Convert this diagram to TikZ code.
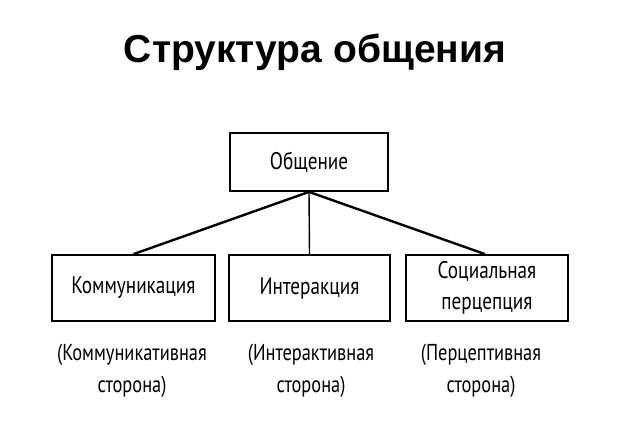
\documentclass[tikz,border=0pt]{standalone}
\usepackage{fontspec}
\setmainfont{Liberation Sans}
\newfontfamily\boxfont[FakeStretch=0.8]{PT Sans}
\begin{document}
\begin{tikzpicture}[x=1pt,y=-1pt,
  box/.style={draw, line width=1.8pt, minimum width=160pt, minimum height=66pt, inner sep=0pt, align=center, font=\boxfont\fontsize{24}{31}\selectfont},
  topbox/.style={box, minimum width=158pt, minimum height=58pt},
  note/.style={align=center, font=\boxfont\fontsize{23}{32}\selectfont},
  link/.style={line width=2.4pt}]
\useasboundingbox (0,0) rectangle (631,424);
\node[font=\bfseries\fontsize{39}{44}\selectfont] (title) at (315,52) {Структура общения};
\node[topbox] (top) at (309,162) {Общение};
\node[box, minimum width=163pt] (b1) at (133.5,288) {Коммуникация};
\node[box, minimum width=161pt] (b2) at (309.5,288) {Интеракция};
\node[box, minimum width=162pt] (b3) at (487,288) {Социальная\\перцепция};
\coordinate (c0) at (top.south);
\draw[link] (c0) -- ([xshift=0pt]b1.north);
\draw[line width=1.4pt] (c0) -- (b2.north);
\draw[link] (c0) -- ([xshift=-2pt]b3.north);
\node[note] (n1) at (132,371) {(Коммуникативная\\сторона)};
\node[note] (n2) at (311,371) {(Интерактивная\\сторона)};
\node[note] (n3) at (481,371) {(Перцептивная\\сторона)};
\end{tikzpicture}
\end{document}
